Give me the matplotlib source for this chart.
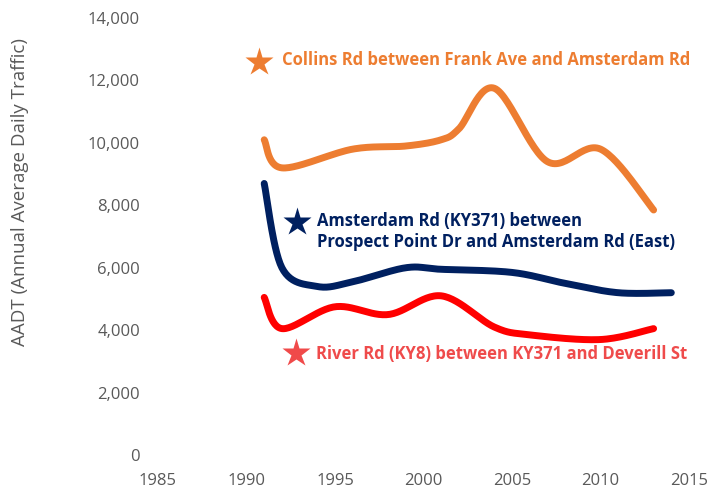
import numpy as np
import matplotlib
matplotlib.use("Agg")
import matplotlib.pyplot as plt

plt.rcParams["font.family"] = ["Open Sans", "DejaVu Sans"]

# ── Data ─────────────────────────────────────────────────────────────────────
collins_years = [1991, 1992, 1996, 1999, 2001, 2002, 2004, 2007, 2010, 2013]
collins_aadt = [10100, 9200, 9800, 9900, 10100, 10450, 11750, 9400, 9800, 7850]

amsterdam_years = [1991, 1992, 1994, 1996, 1999, 2001, 2005, 2008, 2011, 2014]
amsterdam_aadt = [8700, 6000, 5400, 5550, 6000, 5950, 5850, 5500, 5200, 5200]

river_years = [1991, 1992, 1995, 1998, 2001, 2004, 2006, 2010, 2013]
river_aadt = [5050, 4050, 4750, 4500, 5100, 4100, 3850, 3700, 4050]

labels = [
    "Collins Rd between Frank Ave and Amsterdam Rd",
    "Amsterdam Rd (KY371) between\nProspect Point Dr and Amsterdam Rd (East)",
    "River Rd (KY8) between KY371 and Deverill St",
]

ORANGE = "#ED7D31"
NAVY = "#002060"
RED = "#FF0000"
RED_TXT = "#EF4B4B"
GREY = "#595959"


def smooth(xs, ys, n=30):
    """Excel-style smoothed line: Catmull-Rom segments turned into Bezier."""
    p = np.column_stack([xs, ys]).astype(float)
    p = np.vstack([p[0], p, p[-1]])
    out = []
    t = np.linspace(0, 1, n)[:, None]
    for i in range(1, len(p) - 2):
        p0, p1, p2, p3 = p[i - 1], p[i], p[i + 1], p[i + 2]
        c1 = p1 + (p2 - p0) / 6
        c2 = p2 - (p3 - p1) / 6
        seg = ((1 - t) ** 3) * p1 + 3 * ((1 - t) ** 2) * t * c1 \
            + 3 * (1 - t) * t ** 2 * c2 + t ** 3 * p2
        out.append(seg if i == 1 else seg[1:])
    out = np.vstack(out)
    return out[:, 0], out[:, 1]


fig = plt.figure(figsize=(7.14, 4.94), dpi=100)
ax = fig.add_axes([0.2213, 0.0789, 0.7437, 0.8846])

for xs, ys, c in [(collins_years, collins_aadt, ORANGE),
                  (amsterdam_years, amsterdam_aadt, NAVY),
                  (river_years, river_aadt, RED)]:
    sx, sy = smooth(xs, ys)
    ax.plot(sx, sy, color=c, lw=5, solid_capstyle="round", solid_joinstyle="round")

# ── Stars + labels ───────────────────────────────────────────────────────────
ax.plot(1990.7, 12600, marker="*", ms=21, color=ORANGE, mec="none", clip_on=False)
ax.text(1992.0, 12650, labels[0], color=ORANGE, fontsize=12, fontweight="bold",
        ha="left", va="center")

ax.plot(1992.85, 7470, marker="*", ms=21, color=NAVY, mec="none")
ax.text(1994.0, 7170, labels[1], color=NAVY, fontsize=12, fontweight="bold",
        ha="left", va="center", linespacing=1.2)

ax.plot(1992.8, 3270, marker="*", ms=21, color="#F04A4A", mec="none")
ax.text(1993.95, 3240, labels[2], color=RED_TXT, fontsize=12, fontweight="bold",
        ha="left", va="center")

# ── Axes ─────────────────────────────────────────────────────────────────────
ax.set_xlim(1985, 2015)
ax.set_ylim(0, 14000)
ax.set_xticks(range(1985, 2016, 5))
ax.set_yticks(range(0, 14001, 2000))
ax.set_yticklabels([f"{v:,}" for v in range(0, 14001, 2000)])
ax.tick_params(length=0, labelsize=12, colors=GREY, pad=13)
for s in ax.spines.values():
    s.set_visible(False)

fig.text(20 / 714, 1 - 192 / 494, "AADT (Annual Average Daily Traffic)",
         rotation=90, ha="center", va="center", color=GREY, fontsize=13.5)

fig.savefig("out.png", dpi=100)
